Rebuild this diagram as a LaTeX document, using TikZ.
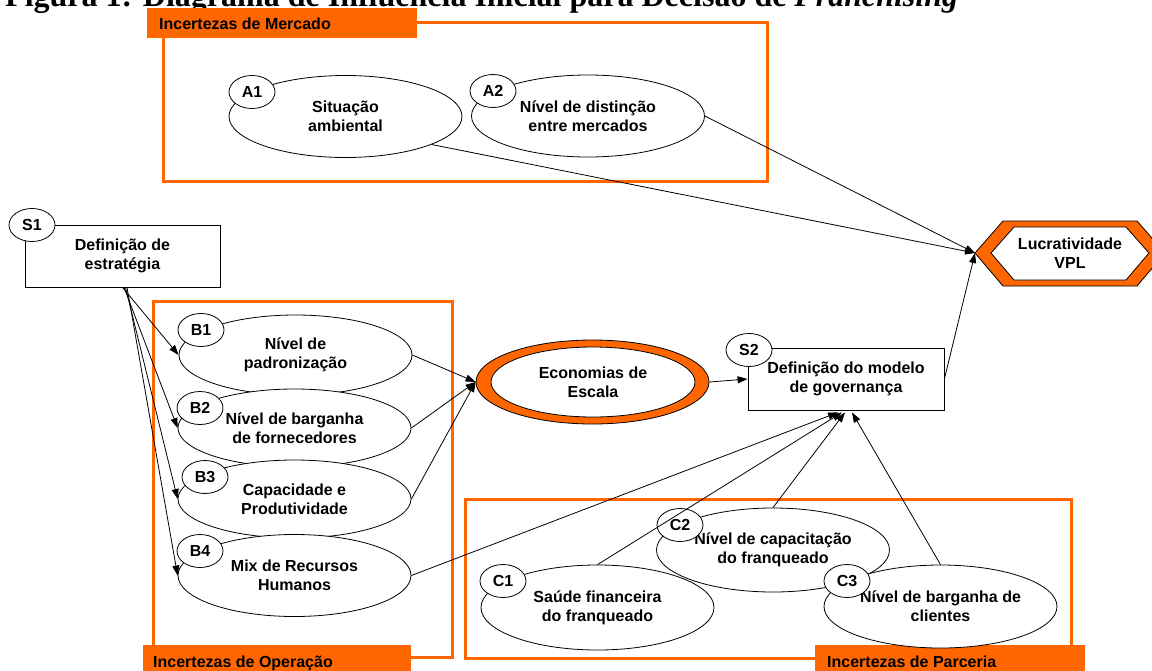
\documentclass[tikz,border=0pt]{standalone}
\usepackage{fontspec}
\setmainfont{Liberation Sans}
\newfontfamily\titlefont{Liberation Serif}
\usetikzlibrary{shapes.geometric,arrows.meta}
\definecolor{vorange}{HTML}{FF6600}
\begin{document}
\begin{tikzpicture}[x=1pt,y=-1pt,
  lbl/.style={font=\fontsize{16}{19}\selectfont\bfseries, align=center},
  bigell/.style={ellipse, draw=black, line width=0.8pt, fill=white, minimum width=233pt, minimum height=82pt, inner sep=0pt, lbl},
  idtag/.style={ellipse, draw=black, line width=0.8pt, fill=white, minimum width=46pt, minimum height=33pt, inner sep=0pt, lbl},
  sbox/.style={rectangle, draw=black, line width=0.8pt, fill=white, minimum width=195pt, minimum height=62pt, inner sep=0pt, lbl},
  ufbox/.style={draw=vorange, line width=3pt},
  hdr/.style={fill=vorange, draw=none},
  hdrtext/.style={anchor=base west, inner sep=0pt, font=\fontsize{16}{19}\selectfont\bfseries},
  conn/.style={line width=0.8pt, -{Triangle[length=10pt,width=7pt]}},
]
\useasboundingbox (0,0) rectangle (1152,670);
\fill[white] (0,0) rectangle (1152,670);

% title (clipped at top)
\node[anchor=base west, inner sep=0pt, font=\titlefont\bfseries\fontsize{32}{38}\selectfont] (title) at (5,6) {Figura 1: Diagrama de Influência Inicial para Decisão de \textit{Franchising}};

% frames
\draw[ufbox] (163,22) rectangle (767,181);
\draw[ufbox] (153,301) rectangle (452,657);
\draw[ufbox] (465,499) rectangle (1071,658);

% header boxes
\fill[hdr] (147,8) rectangle (417,38);
\node[hdrtext] (hm) at (159,29) {Incertezas de Mercado};
\fill[hdr] (143,645) rectangle (411,675);
\node[hdrtext] (ho) at (153,667) {Incertezas de Operação};
\fill[hdr] (815,645) rectangle (1085,675);
\node[hdrtext] (hp) at (827,667) {Incertezas de Parceria};

% market
\node[bigell] (a1) at (345.5,116.5) {Situação\\ambiental};
\node[bigell] (a2) at (588,116) {Nível de distinção\\entre mercados};
\node[idtag] (ta1) at (252,92) {A1};
\node[idtag] (ta2) at (493,91) {A2};

% strategy
\node[sbox] (s1) at (122.5,256) {Definição de\\estratégia};
\node[idtag] (ts1) at (32,225) {S1};

% operation
\node[bigell, minimum height=80pt] (b1) at (295.5,355) {Nível de\\padronização};
\node[bigell, minimum height=78pt] (b2) at (294.5,428) {Nível de barganha\\de fornecedores};
\node[bigell, minimum height=78pt] (b3) at (294.5,499) {Capacidade e\\Produtividade};
\node[bigell, minimum height=82pt] (b4) at (294.5,575.5) {Mix de Recursos\\Humanos};
\node[idtag] (tb1) at (201,330) {B1};
\node[idtag] (tb2) at (200,408) {B2};
\node[idtag] (tb3) at (205,477) {B3};
\node[idtag] (tb4) at (200,551) {B4};

% economies of scale
\node[ellipse, draw=black, line width=0.8pt, fill=vorange, minimum width=233pt, minimum height=84pt, inner sep=0pt] (econ) at (592.5,382) {};
\node[ellipse, draw=black, line width=0.8pt, fill=white, minimum width=204pt, minimum height=70pt, inner sep=0pt, lbl] (econin) at (593,382) {Economias de\\Escala};

% governance
\node[sbox, minimum width=196pt] (s2) at (846,379) {Definição do modelo\\de governança};
\node[idtag] (ts2) at (749,350) {S2};

% partnership
\node[bigell, minimum height=85pt] (c1) at (597.5,607.5) {Saúde financeira\\do franqueado};
\node[bigell, minimum height=84pt] (c2) at (773,550) {Nível de capacitação\\do franqueado};
\node[bigell, minimum height=83pt] (c3) at (940.5,606.5) {Nível de barganha de\\clientes};
\node[idtag] (tc1) at (503,581) {C1};
\node[idtag] (tc2) at (680,525) {C2};
\node[idtag] (tc3) at (847,581) {C3};

% value hexagon
\draw[line width=0.8pt, fill=vorange] (975,253) -- (1003,221) -- (1137,221) -- (1165,253) -- (1137,286) -- (1003,286) -- cycle;
\draw[line width=0.8pt, fill=white] (991,253) -- (1014,227) -- (1126,227) -- (1149,253) -- (1126,280) -- (1014,280) -- cycle;
\node[lbl, inner sep=0pt] (lucrtext) at (1070,253) {Lucratividade\\VPL};
\coordinate (lucr) at (975,253);

% connectors
\draw[conn] ([xshift=0pt]s1.south) -- (b1.west);
\draw[conn] ([xshift=1.5pt]s1.south) -- (b2.west);
\draw[conn] ([xshift=3pt]s1.south) -- (b3.west);
\draw[conn] ([xshift=4.5pt]s1.south) -- (b4.west);
\draw[conn] (b1.east) -- (econ.west);
\draw[conn] (b2.east) -- (econ.west);
\draw[conn] (b3.east) -- (econ.west);
\draw[conn] (econ.east) -- (s2.west);
\draw[conn] (b4.east) -- ([xshift=-8pt,yshift=-2pt]s2.south);
\draw[conn] (c1.north) -- ([xshift=-4pt,yshift=-2pt]s2.south);
\draw[conn] (c2.north) -- ([xshift=-1pt,yshift=-2pt]s2.south);
\draw[conn] (c3.north) -- ([xshift=6pt,yshift=-2pt]s2.south);
\draw[conn] (a1.-18.4) -- (lucr);
\draw[conn] (a2.east) -- (lucr);
\draw[conn] (s2.east) -- (lucr);
\end{tikzpicture}
\end{document}
